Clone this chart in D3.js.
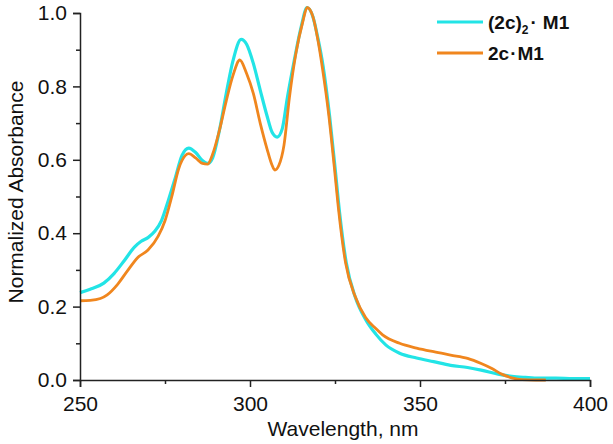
<!DOCTYPE html>
<html>
<head>
<meta charset="utf-8">
<script src="https://cdn.jsdelivr.net/npm/d3@7"></script>
<style>
  html, body { margin: 0; padding: 0; background: #fff; }
  svg { display: block; }
  text { font-family: "Liberation Sans", Arial, sans-serif; fill: #111; }
</style>
</head>
<body>
<svg id="chart" width="613" height="444"></svg>
<script>
// ---- data ----
const wlDimer = [250,253,257,260,263,266,268,270,272,274,276,278,280,282,284,286,287.5,289,291,293,295,297.4,299,301,303,305,306.5,308,309.5,311,313,315,316.8,318.5,320,321.5,323.4,325,326.3,328.3,331,334,337,340,344,349,354,359,364,368,373,377,381,385,390,395,400];
const absDimer = [0.238,0.247,0.264,0.290,0.325,0.362,0.378,0.388,0.405,0.435,0.490,0.550,0.612,0.632,0.620,0.598,0.590,0.605,0.680,0.780,0.870,0.928,0.915,0.862,0.790,0.720,0.675,0.662,0.685,0.770,0.870,0.960,1.015,0.990,0.930,0.855,0.720,0.580,0.460,0.320,0.225,0.165,0.125,0.095,0.073,0.060,0.050,0.040,0.034,0.027,0.016,0.010,0.007,0.005,0.005,0.004,0.004];

const wlMono = [250,253,256,258,261,264,267,270,273,275,277,279,281,282,284,286,287.5,289,291,293,295,297,299,301,303,305,306.5,307.3,308.5,310,311.6,313.5,315.5,316.8,318.5,320,321.3,323.2,324.8,326.1,328.1,331,334,337,339,344,349,354,359,364,368,371,374,377,380,384,387];
const absMono = [0.216,0.217,0.222,0.232,0.260,0.298,0.334,0.354,0.392,0.434,0.500,0.575,0.612,0.617,0.605,0.590,0.588,0.615,0.680,0.760,0.830,0.872,0.835,0.780,0.700,0.630,0.585,0.572,0.585,0.640,0.770,0.890,0.975,1.015,0.990,0.925,0.850,0.720,0.580,0.460,0.320,0.226,0.170,0.140,0.123,0.100,0.087,0.077,0.068,0.059,0.045,0.032,0.016,0.006,0.001,0.000,0.000];

const xTicks = [250, 300, 350, 400];
const xMinorTicks = [275, 325, 375];
const yTicks = [0.0, 0.2, 0.4, 0.6, 0.8, 1.0];
const yMinorTicks = [0.1, 0.3, 0.5, 0.7, 0.9];

const colors = { dimer: "#22e4e6", mono: "#f0861e" };

// ---- chart ----
const svg = d3.select("#chart");
const x = d3.scaleLinear().domain([250, 400]).range([80, 590]);
const y = d3.scaleLinear().domain([0, 1]).range([380, 13]);

const line = d3.line().x(d => x(d[0])).y(d => y(d[1])).curve(d3.curveMonotoneX);

const dimer = wlDimer.map((w, i) => [w, absDimer[i]]);
const mono = wlMono.map((w, i) => [w, absMono[i]]);

svg.append("path").datum(dimer)
  .attr("d", line).attr("fill", "none")
  .attr("stroke", colors.dimer).attr("stroke-width", 3.2)
  .attr("stroke-linejoin", "round");
svg.append("path").datum(mono)
  .attr("d", line).attr("fill", "none")
  .attr("stroke", colors.mono).attr("stroke-width", 2.8)
  .attr("stroke-linejoin", "round");

// axes
const axisColor = "#222";
const xAxis = svg.append("g").attr("transform", "translate(0,380)")
  .call(d3.axisBottom(x).tickValues(xTicks).tickSize(7).tickPadding(9).tickFormat(d3.format("d")));
const xMinor = svg.append("g").attr("transform", "translate(0,380)")
  .call(d3.axisBottom(x).tickValues(xMinorTicks).tickSize(4).tickFormat(""));
const yAxis = svg.append("g").attr("transform", "translate(80,0)")
  .call(d3.axisLeft(y).tickValues(yTicks).tickSize(7).tickPadding(6).tickFormat(d3.format(".1f")));
const yMinor = svg.append("g").attr("transform", "translate(80,0)")
  .call(d3.axisLeft(y).tickValues(yMinorTicks).tickSize(4).tickFormat(""));

[xAxis, xMinor, yAxis, yMinor].forEach(g => {
  g.select(".domain").attr("stroke", axisColor).attr("stroke-width", 1.5);
  g.selectAll(".tick line").attr("stroke", axisColor).attr("stroke-width", 1.5);
  g.selectAll(".tick text")
    .attr("font-family", "Liberation Sans, Arial, sans-serif")
    .attr("font-size", 21).attr("fill", "#111");
});
xMinor.select(".domain").remove();
yMinor.select(".domain").remove();
xAxis.selectAll(".tick text").attr("dy", "0.72em");

// axis titles
svg.append("text").attr("x", 343).attr("y", 436)
  .attr("text-anchor", "middle").attr("font-size", 21)
  .text("Wavelength, nm");
svg.append("text")
  .attr("transform", "translate(23,192) rotate(-90)")
  .attr("text-anchor", "middle").attr("font-size", 21)
  .text("Normalized Absorbance");

// legend
const legend = svg.append("g");
legend.append("line").attr("x1", 437).attr("x2", 483).attr("y1", 22).attr("y2", 22)
  .attr("stroke", colors.dimer).attr("stroke-width", 3.2);
legend.append("line").attr("x1", 437).attr("x2", 483).attr("y1", 53).attr("y2", 53)
  .attr("stroke", colors.mono).attr("stroke-width", 2.8);

const t1 = legend.append("text").attr("x", 488).attr("y", 29)
  .attr("font-size", 19).attr("font-weight", "bold");
t1.append("tspan").text("(2c)");
t1.append("tspan").attr("font-size", 12).attr("dy", 5).text("2");
t1.append("tspan").attr("dy", -5).attr("dx", 2).text("·");
t1.append("tspan").attr("dx", 6).text("M1");

const t2 = legend.append("text").attr("x", 488).attr("y", 60)
  .attr("font-size", 19).attr("font-weight", "bold");
t2.append("tspan").text("2c");
t2.append("tspan").attr("dx", 1).text("·");
t2.append("tspan").attr("dx", 1).text("M1");
</script>
</body>
</html>
